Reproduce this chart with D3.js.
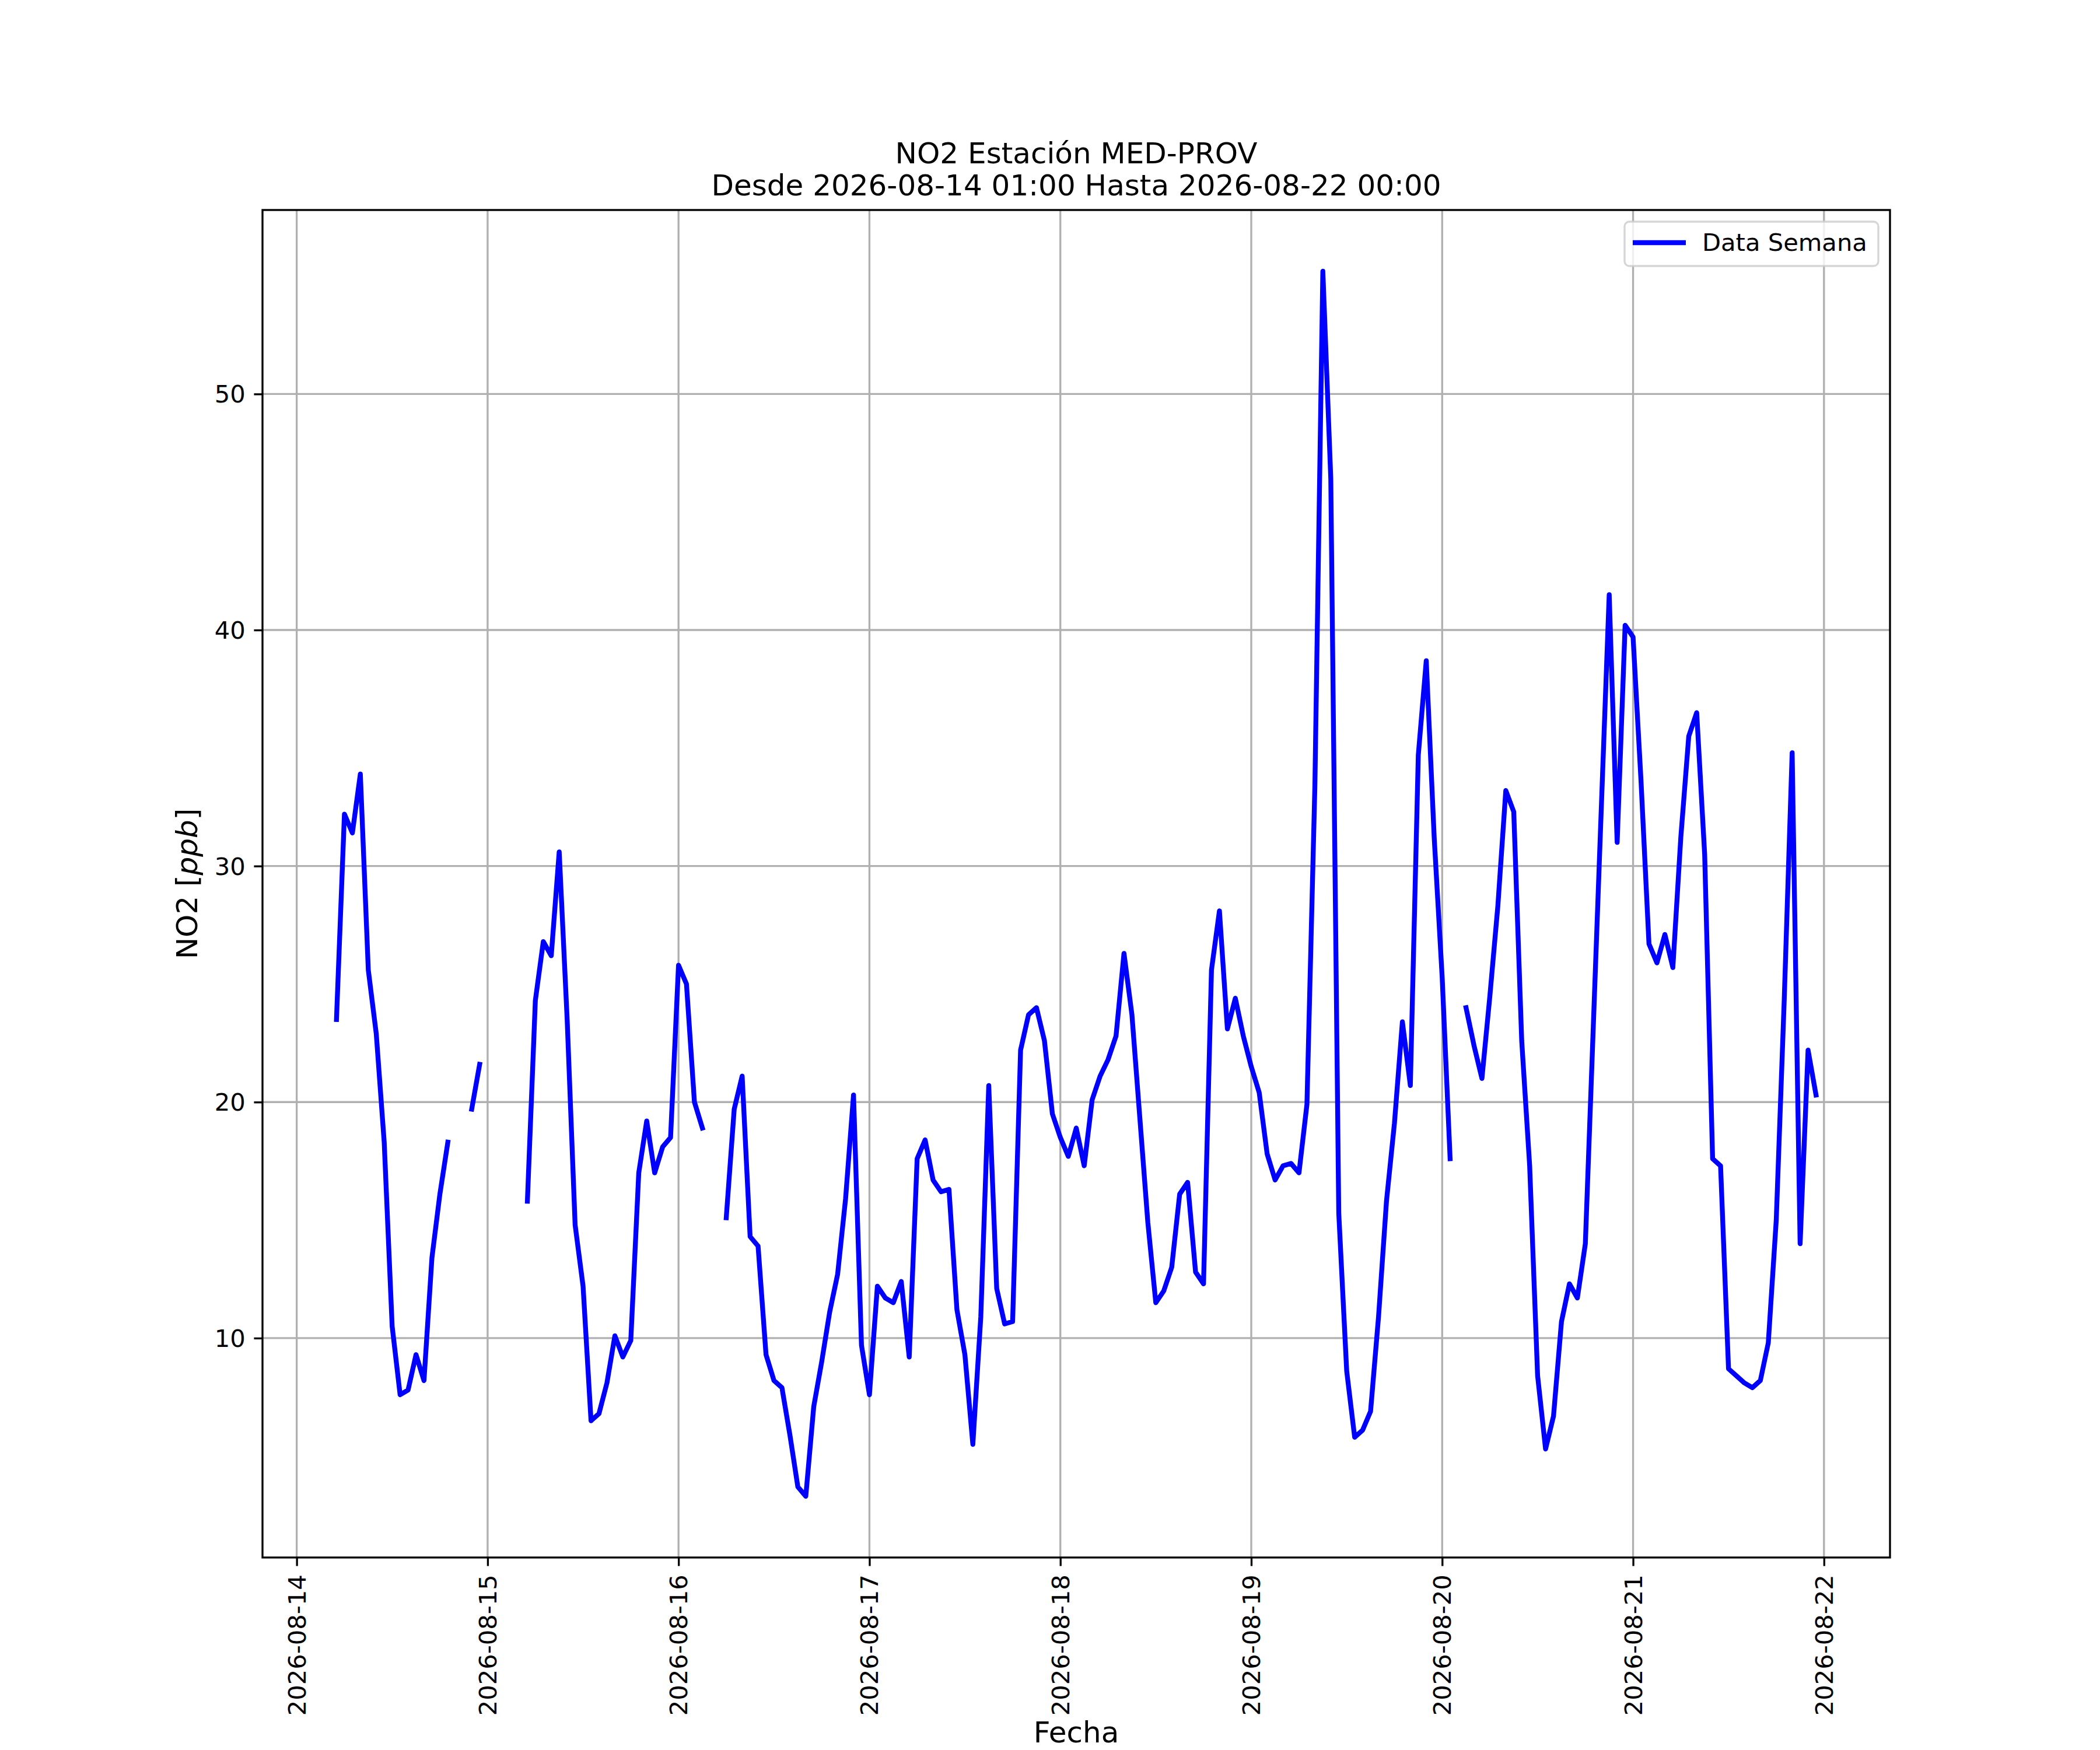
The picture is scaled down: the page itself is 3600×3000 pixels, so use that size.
<!DOCTYPE html>
<html lang="es">
<head>
<meta charset="UTF-8">
<title>NO2 Estación MED-PROV</title>
<script src="https://d3js.org/d3.v7.min.js"></script>
<style>
  body { margin: 0; background: #fff; }
  svg text { font-family: "DejaVu Sans", sans-serif; fill: #000; }
</style>
</head>
<body>
<svg id="chart" width="3600" height="3000"></svg>
<script>
// hourly NO2 values (ppb), first value = 2026-08-14 01:00, null = no data
const dia14 = [null, null, null, null, 23.5, 32.2, 31.4, 33.9, 25.6, 22.9, 18.3, 10.5,
               7.6, 7.8, 9.3, 8.2, 13.4, 16.1, 18.3, null, null, 19.7, 21.6, null];
const dia15 = [null, null, null, null, 15.8, 24.3, 26.8, 26.2, 30.6, 23.5, 14.8, 12.2,
               6.5, 6.8, 8.1, 10.1, 9.2, 9.9, 17.0, 19.2, 17.0, 18.1, 18.5, 25.8];
const dia16 = [25.0, 20.0, 18.9, null, null, 15.1, 19.7, 21.1, 14.3, 13.9, 9.3, 8.2,
               7.9, 5.9, 3.7, 3.3, 7.1, 9.0, 11.1, 12.7, 15.9, 20.3, 9.7, 7.6];
const dia17 = [12.2, 11.7, 11.5, 12.4, 9.2, 17.6, 18.4, 16.7, 16.2, 16.3, 11.2, 9.3,
               5.5, 10.9, 20.7, 12.1, 10.6, 10.7, 22.2, 23.7, 24.0, 22.6, 19.5, 18.5];
const dia18 = [17.7, 18.9, 17.3, 20.1, 21.1, 21.8, 22.8, 26.3, 23.7, 19.3, 14.9, 11.5,
               12.0, 13.0, 16.1, 16.6, 12.8, 12.3, 25.6, 28.1, 23.1, 24.4, 22.8, 21.5];
const dia19 = [20.4, 17.8, 16.7, 17.3, 17.4, 17.0, 19.9, 33.4, 55.2, 46.4, 15.3, 8.6,
               5.8, 6.1, 6.9, 10.9, 15.8, 19.1, 23.4, 20.7, 34.7, 38.7, 31.2, 25.3];
const dia20 = [17.6, null, 24.0, 22.4, 21.0, 24.5, 28.3, 33.2, 32.3, 22.6, 17.3, 8.4,
               5.3, 6.7, 10.7, 12.3, 11.7, 14.0, 23.2, 32.4, 41.5, 31.0, 40.2, 39.7];
const dia21 = [33.6, 26.7, 25.9, 27.1, 25.7, 31.2, 35.5, 36.5, 30.5, 17.6, 17.3, 8.7,
               8.4, 8.1, 7.9, 8.2, 9.8, 15.0, 24.3, 34.8, 14.0, 22.2, 20.3, null];

const inicio = Date.UTC(2026, 7, 14, 1);   // 2026-08-14 01:00
const yTickValues = [10, 20, 30, 40, 50];
const titulo = ["NO2 Estación MED-PROV", "Desde 2026-08-14 01:00 Hasta 2026-08-22 00:00"];
const etiquetaLeyenda = "Data Semana";

const valores = [].concat(dia14, dia15, dia16, dia17, dia18, dia19, dia20, dia21);
const data = valores.map((v, i) => ({ t: new Date(inicio + i * 3600e3), v: v }));
const validos = data.filter(d => d.v != null);

const W = 3600, H = 3000;
const margin = { top: 360, right: 360, bottom: 330, left: 450 };
const width = W - margin.left - margin.right,
      height = H - margin.top - margin.bottom;

const px = pt => pt * 300 / 72;   // points at 300 dpi

// axis limits like matplotlib autoscale (5% margins)
const tExt = d3.extent(validos, d => +d.t);
const tPad = (tExt[1] - tExt[0]) * 0.05;
const vExt = d3.extent(validos, d => d.v);
const vPad = (vExt[1] - vExt[0]) * 0.05;

const x = d3.scaleUtc()
    .domain([new Date(tExt[0] - tPad), new Date(tExt[1] + tPad)])
    .range([0, width]);
const y = d3.scaleLinear()
    .domain([vExt[0] - vPad, vExt[1] + vPad])
    .range([height, 0]);

const svg = d3.select("#chart");
svg.append("rect").attr("width", W).attr("height", H).attr("fill", "#fff");

const g = svg.append("g").attr("transform", `translate(${margin.left},${margin.top})`);

const xTicks = d3.utcDay.range(d3.utcDay.ceil(x.domain()[0]), x.domain()[1]);
const fmt = d3.utcFormat("%Y-%m-%d");

// grid
g.append("g").selectAll("line").data(xTicks).join("line")
    .attr("x1", d => x(d)).attr("x2", d => x(d))
    .attr("y1", 0).attr("y2", height)
    .attr("stroke", "#b0b0b0").attr("stroke-width", px(0.8));
g.append("g").selectAll("line").data(yTickValues).join("line")
    .attr("x1", 0).attr("x2", width)
    .attr("y1", d => y(d)).attr("y2", d => y(d))
    .attr("stroke", "#b0b0b0").attr("stroke-width", px(0.8));

// data line
const line = d3.line()
    .defined(d => d.v != null)
    .x(d => x(d.t))
    .y(d => y(d.v));
g.append("path")
    .datum(data)
    .attr("fill", "none")
    .attr("stroke", "#0000ff")
    .attr("stroke-width", px(2))
    .attr("stroke-linejoin", "round")
    .attr("stroke-linecap", "square")
    .attr("d", line);

// axes
const tickLen = px(3.5), tickPad = px(3.5), tickFont = px(10);

const xAxis = g.append("g")
    .attr("transform", `translate(0,${height})`)
    .call(d3.axisBottom(x).tickValues(xTicks).tickFormat(fmt)
        .tickSize(tickLen).tickPadding(tickPad));
xAxis.select(".domain").remove();
xAxis.selectAll(".tick line").attr("stroke", "#000").attr("stroke-width", px(0.8));
xAxis.selectAll(".tick text")
    .attr("font-size", tickFont)
    .attr("font-family", "DejaVu Sans")
    .attr("fill", "#000")
    .attr("dy", null)
    .attr("y", null)
    .attr("text-anchor", "end")
    .attr("dominant-baseline", "central")
    .attr("transform", `translate(0,${tickLen + tickPad}) rotate(-90)`);

const yAxis = g.append("g")
    .call(d3.axisLeft(y).tickValues(yTickValues).tickFormat(d3.format("d"))
        .tickSize(tickLen).tickPadding(tickPad));
yAxis.select(".domain").remove();
yAxis.selectAll(".tick line").attr("stroke", "#000").attr("stroke-width", px(0.8));
yAxis.selectAll(".tick text")
    .attr("font-size", tickFont)
    .attr("font-family", "DejaVu Sans")
    .attr("fill", "#000")
    .attr("dy", null)
    .attr("dominant-baseline", "central");

// spines
g.append("rect")
    .attr("width", width).attr("height", height)
    .attr("fill", "none").attr("stroke", "#000").attr("stroke-width", px(0.8));

// axis labels
g.append("text")
    .attr("x", width / 2).attr("y", H - margin.top - 13)
    .attr("text-anchor", "middle")
    .attr("font-size", px(12))
    .text("Fecha");

const yl = g.append("text")
    .attr("transform", `translate(${338 - margin.left},${height / 2}) rotate(-90)`)
    .attr("text-anchor", "middle")
    .attr("font-size", px(12));
yl.append("tspan").text("NO2 [");
yl.append("tspan").attr("font-style", "italic").text("ppb");
yl.append("tspan").text("]");

// title
svg.append("g").selectAll("text").data(titulo).join("text")
    .attr("x", margin.left + width / 2)
    .attr("y", (d, i) => 280 + i * 55)
    .attr("text-anchor", "middle")
    .attr("font-size", px(12))
    .text(d => d);

// legend
const leg = g.append("g").attr("transform", `translate(${width - 455},20)`);
leg.append("rect")
    .attr("width", 435).attr("height", 76)
    .attr("rx", 8).attr("ry", 8)
    .attr("fill", "#fff").attr("fill-opacity", 0.8)
    .attr("stroke", "#cccccc").attr("stroke-opacity", 0.8)
    .attr("stroke-width", px(0.8));
leg.append("line")
    .attr("x1", 14).attr("x2", 105)
    .attr("y1", 36).attr("y2", 36)
    .attr("stroke", "#0000ff").attr("stroke-width", px(2));
leg.append("text")
    .attr("x", 133).attr("y", 50)
    .attr("font-size", px(10))
    .text(etiquetaLeyenda);
</script>
</body>
</html>
